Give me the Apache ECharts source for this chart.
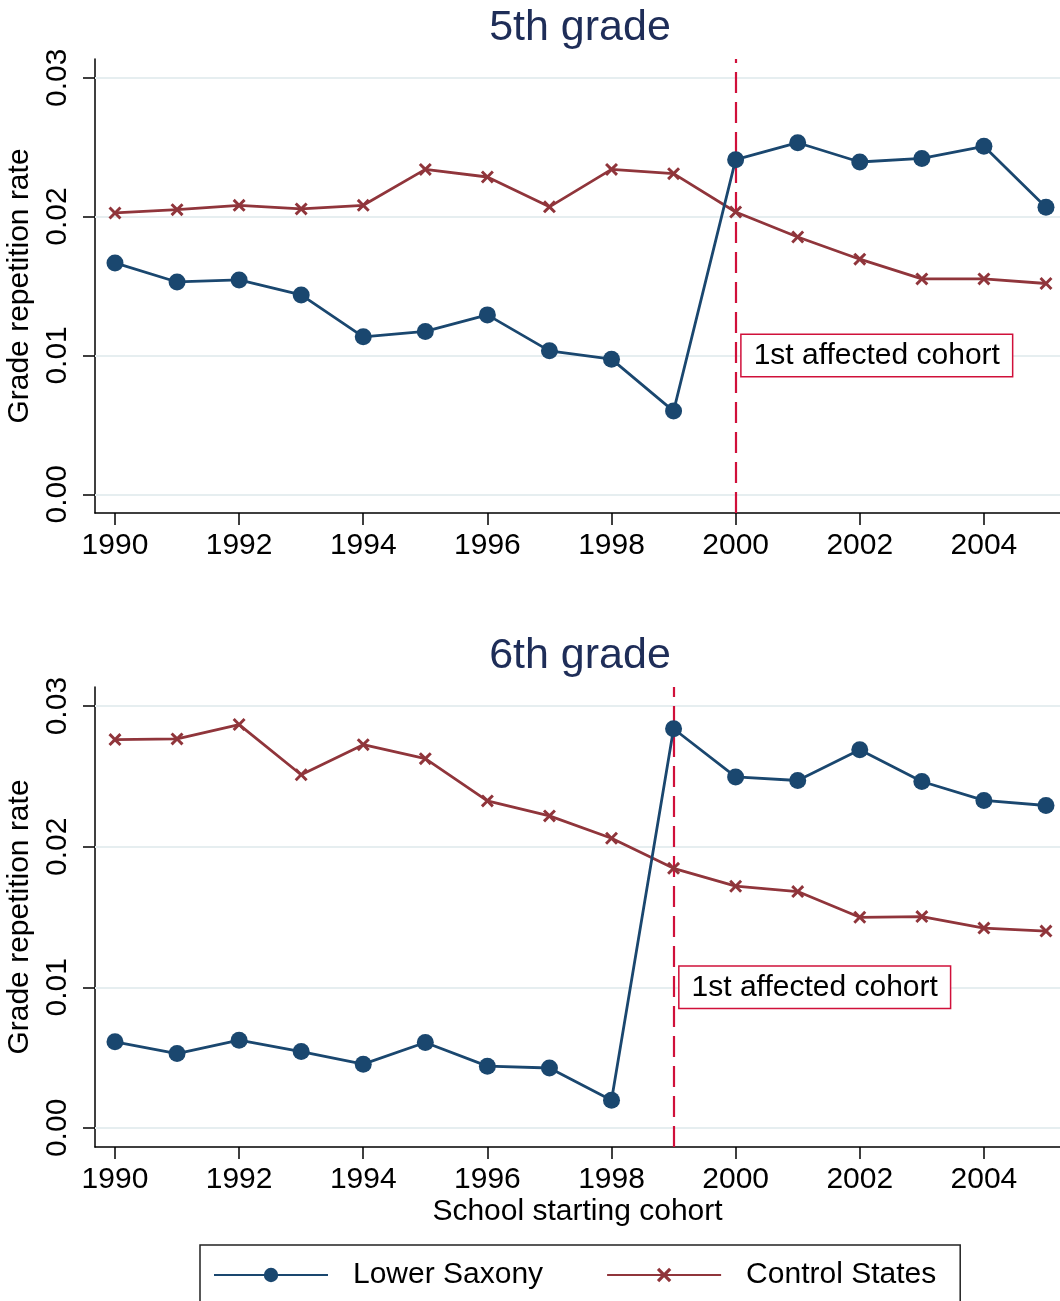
<!DOCTYPE html>
<html>
<head>
<meta charset="utf-8">
<script src="https://cdn.jsdelivr.net/npm/echarts@6/dist/echarts.min.js"></script>
<style>
html,body{margin:0;padding:0;background:#fff;}
#chart{width:1060px;height:1301px;}
</style>
</head>
<body>
<div id="chart"></div>
<script>
// ---- data ----
const years = [1990,1991,1992,1993,1994,1995,1996,1997,1998,1999,2000,2001,2002,2003,2004,2005];
const lowerSaxony5 = [0.01666,0.01529,0.01544,0.01436,0.01134,0.01173,0.01292,0.01033,0.00973,0.00599,0.02410,0.02532,0.02393,0.02419,0.02506,0.02067];
const control5     = [0.02026,0.02050,0.02081,0.02055,0.02081,0.02340,0.02285,0.02070,0.02340,0.02309,0.02033,0.01853,0.01693,0.01551,0.01551,0.01518];
const lowerSaxony6 = [0.00612,0.00529,0.00624,0.00543,0.00453,0.00607,0.00439,0.00426,0.00196,0.02839,0.02496,0.02471,0.02689,0.02464,0.02329,0.02293];
const control6     = [0.02762,0.02767,0.02869,0.02512,0.02726,0.02626,0.02326,0.02219,0.02060,0.01846,0.01719,0.01681,0.01498,0.01503,0.01421,0.01400];
const xTicks = [1990,1992,1994,1996,1998,2000,2002,2004];
const yTicks = [0, 0.01, 0.02, 0.03];
const firstAffected = [2000, 1999];
const panelTitles = ['5th grade', '6th grade'];
const seriesNames = ['Lower Saxony', 'Control States'];
const annotationText = '1st affected cohort';
const xName = 'School starting cohort';
const yName = 'Grade repetition rate';

// ---- style ----
const FONT = '"Liberation Sans", Arial, Helvetica, sans-serif';
const NAVY = '#1a476f';
const MAROON = '#90353b';
const CRIMSON = '#d0103a';
const GRID = '#e6eef0';
const TITLE = '#1e2d58';
const XSYM = 'path://M0,1.6 L1.6,0 L5,3.4 L8.4,0 L10,1.6 L6.6,5 L10,8.4 L8.4,10 L5,6.6 L1.6,10 L0,8.4 L3.4,5 Z';

const grids = [
  {left: 95, right: 0, top: 59, height: 454, outerBoundsMode: 'none', containLabel: false},
  {left: 95, right: 0, top: 687, height: 460, outerBoundsMode: 'none', containLabel: false}
];
const yRanges = [[-0.00135, 0.03135], [-0.00136, 0.03136]];

function pair(vals) { return years.map((y, i) => [y, vals[i]]); }

const xAxes = [0, 1].map(i => ({
  type: 'value', gridIndex: i, min: 1989.678, max: 2005.226,
  axisLine: {show: true, onZero: false, lineStyle: {color: '#000', width: 1.5}},
  axisTick: {show: true, length: 12, customValues: xTicks, lineStyle: {color: '#000', width: 1.5}},
  axisLabel: {show: true, customValues: xTicks, fontSize: 30, color: '#000', fontFamily: FONT, margin: 18,
              formatter: v => String(v)},
  splitLine: {show: false},
  name: i === 1 ? xName : '', nameLocation: 'middle', nameGap: 50,
  nameTextStyle: {fontSize: 30, color: '#000', fontFamily: FONT}
}));

const yAxes = [0, 1].map(i => ({
  type: 'value', gridIndex: i, min: yRanges[i][0], max: yRanges[i][1],
  axisLine: {show: true, onZero: false, lineStyle: {color: '#000', width: 1.5}},
  axisTick: {show: true, length: 12, customValues: yTicks, lineStyle: {color: '#000', width: 1.5}},
  axisLabel: {show: true, customValues: yTicks, rotate: 90, fontSize: 30, color: '#000', fontFamily: FONT, margin: 22,
              formatter: v => v.toFixed(2)},
  splitLine: {show: false},
  name: yName, nameLocation: 'middle', nameGap: 55,
  nameTextStyle: {fontSize: 30, color: '#000', fontFamily: FONT}
}));

const series = [];
[0, 1].forEach(i => {
  // reference lines: grid lines, first affected cohort line, annotation
  series.push({
    type: 'line', xAxisIndex: i, yAxisIndex: i, data: [], z: 1, silent: true,
    markLine: {
      silent: true, symbol: ['none', 'none'], z: 1, animation: false,
      label: {show: false},
      data: yTicks.map(v => ({yAxis: v, lineStyle: {color: GRID, width: 2, type: 'solid'}}))
        .concat([{xAxis: firstAffected[i], lineStyle: {color: CRIMSON, width: 2.2, type: [21, 9], dashOffset: 0}}])
    },
    markPoint: {
      silent: true, symbol: 'circle', symbolSize: 0, animation: false,
      data: [{coord: [firstAffected[i], 0.01]}],
      label: {show: true, position: 'right', distance: 6, formatter: annotationText,
              fontSize: 30, color: '#000', fontFamily: FONT,
              borderColor: CRIMSON, borderWidth: 1.5, padding: [6, 12, 5, 12], backgroundColor: '#fff'}
    }
  });
  series.push({
    name: seriesNames[0], type: 'line', xAxisIndex: i, yAxisIndex: i,
    data: pair(i === 0 ? lowerSaxony5 : lowerSaxony6), z: 3,
    symbol: 'circle', symbolSize: 17, showSymbol: true,
    lineStyle: {color: NAVY, width: 2.8}, itemStyle: {color: NAVY},
    animation: false
  });
  series.push({
    name: seriesNames[1], type: 'line', xAxisIndex: i, yAxisIndex: i,
    data: pair(i === 0 ? control5 : control6), z: 2,
    symbol: XSYM, symbolSize: 13, showSymbol: true,
    lineStyle: {color: MAROON, width: 2.8}, itemStyle: {color: MAROON},
    animation: false
  });
});

const option = {
  backgroundColor: '#fff',
  animation: false,
  textStyle: {fontFamily: FONT},
  title: panelTitles.map((t, i) => ({
    text: t, left: 575, textAlign: 'center', top: i === 0 ? 2 : 630,
    textStyle: {fontSize: 43, fontWeight: 'normal', color: TITLE, fontFamily: FONT}
  })),
  grid: grids,
  xAxis: xAxes,
  yAxis: yAxes,
  legend: {
    data: seriesNames, left: 200, top: 1245, orient: 'horizontal',
    padding: [15, 24, 20, 13], itemWidth: 114, itemHeight: 18, itemGap: 63,
    borderColor: '#222', borderWidth: 1.5, backgroundColor: '#fff',
    textStyle: {fontSize: 30, color: '#000', fontFamily: FONT, padding: [0, 0, 0, 20]}
  },
  series: series
};

const chart = echarts.init(document.getElementById('chart'), null, {renderer: 'canvas'});
chart.setOption(option);
</script>
</body>
</html>
